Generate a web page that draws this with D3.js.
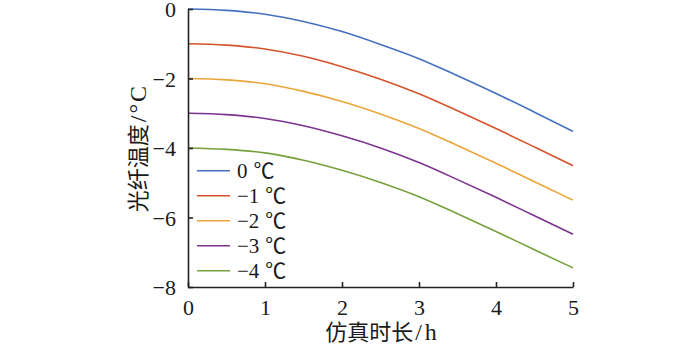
<!DOCTYPE html>
<html>
<head>
<meta charset="utf-8">
<script src="https://cdn.jsdelivr.net/npm/d3@7"></script>
<style>
  html, body { margin: 0; padding: 0; background: #fff; }
  svg { display: block; }
  text { font-family: "Liberation Serif", "Times New Roman", "DejaVu Serif", "Noto Sans CJK SC", serif; fill: #1a1a1a; }
  .cjk { font-family: "Noto Sans CJK SC", sans-serif; }
</style>
</head>
<body>
<svg id="chart" width="700" height="345"></svg>
<script>
const times = [0, 0.5, 1, 1.5, 2, 2.5, 3, 3.5, 4, 4.5, 5];
const seriesLabels = ["0", "\u22121", "\u22122", "\u22123", "\u22124"];
const unitLabel = "℃";
const s0 = [0, -0.04, -0.15, -0.36, -0.65, -1.02, -1.43, -1.92, -2.43, -2.97, -3.52];
const s1 = [-1, -1.04, -1.15, -1.36, -1.66, -2.02, -2.44, -2.93, -3.44, -3.97, -4.51];
const s2 = [-2, -2.04, -2.15, -2.37, -2.66, -3.02, -3.44, -3.93, -4.44, -4.97, -5.50];
const s3 = [-3, -3.04, -3.15, -3.36, -3.65, -4.00, -4.42, -4.91, -5.42, -5.95, -6.48];
const s4 = [-4, -4.04, -4.14, -4.35, -4.64, -4.99, -5.40, -5.89, -6.40, -6.93, -7.45];
const seriesValues = [s0, s1, s2, s3, s4];
const colors = ["#4470C0", "#D4532A", "#ECA53A", "#7D3290", "#76A03C"];
const xTicks = [0, 1, 2, 3, 4, 5];
const yTicks = [0, -2, -4, -6, -8];
const xTitleCJK = "仿真时长", xTitleUnit = "/h";
const yTitleCJK = "光纤温度", yTitleUnit = "/°C";

const svg = d3.select("#chart");
const pLeft = 188, pRight = 573, pTop = 9, pBottom = 287;
const x = d3.scaleLinear().domain([0, 5]).range([pLeft, pRight]);
const y = d3.scaleLinear().domain([0, -8]).range([pTop, pBottom]);

const fmt = d => (d < 0 ? "\u2212" + Math.abs(d) : String(d));

// Lines
const line = d3.line().x((d, i) => x(times[i])).y(d => y(d)).curve(d3.curveMonotoneX);
svg.append("g").selectAll("path").data(seriesValues).join("path")
  .attr("d", d => line(d))
  .attr("fill", "none")
  .attr("stroke", (d, i) => colors[i])
  .attr("stroke-width", 1.6);

// X axis
const xAxis = svg.append("g").attr("transform", `translate(0,${pBottom})`)
  .call(d3.axisBottom(x).tickValues(xTicks).tickSizeInner(-5).tickSizeOuter(0).tickFormat(fmt).tickPadding(12));
// Y axis
const yAxis = svg.append("g").attr("transform", `translate(${pLeft},0)`)
  .call(d3.axisLeft(y).tickValues(yTicks).tickSizeInner(-5).tickSizeOuter(0).tickFormat(fmt).tickPadding(12));

[xAxis, yAxis].forEach(g => {
  g.attr("font-family", null).attr("font-size", null);
  g.select(".domain").attr("stroke", "#222").attr("stroke-width", 1.6);
  g.selectAll(".tick line").attr("stroke", "#222").attr("stroke-width", 1.6);
  g.selectAll(".tick text").style("font-size", "22px").style("fill", "#1a1a1a");
});
yAxis.selectAll(".tick text").attr("dy", "0.36em");

// Axis titles
const xt = svg.append("text")
  .attr("x", (pLeft + pRight) / 2 + 2).attr("y", 340)
  .attr("text-anchor", "middle").style("font-size", "22px");
xt.append("tspan").attr("class", "cjk").text(xTitleCJK);
xt.append("tspan").attr("dx", 2).style("font-size", "24px").style("letter-spacing", "3px").text(xTitleUnit);

const yt = svg.append("text")
  .attr("transform", `translate(146,${(pTop + pBottom) / 2}) rotate(-90)`)
  .attr("text-anchor", "middle").style("font-size", "22px");
yt.append("tspan").attr("class", "cjk").text(yTitleCJK);
yt.append("tspan").attr("dx", 2).style("font-size", "24px").style("letter-spacing", "2px").text(yTitleUnit);

// Legend
const lg = svg.append("g");
seriesLabels.forEach((name, i) => {
  const cy = 170.7 + i * 25;
  lg.append("line").attr("x1", 197).attr("x2", 230).attr("y1", cy).attr("y2", cy)
    .attr("stroke", colors[i]).attr("stroke-width", 1.6);
  const t = lg.append("text").attr("x", 237).attr("y", cy + 7.5).style("font-size", "21px");
  t.append("tspan").text(name);
  t.append("tspan").attr("class", "cjk").attr("dx", 6).style("font-size", "21px").text(unitLabel);
});
</script>
</body>
</html>
